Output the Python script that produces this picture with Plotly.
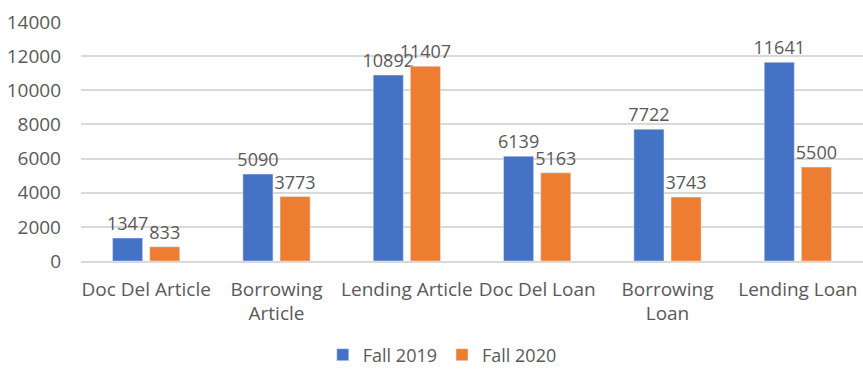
import plotly.graph_objects as go

categories = ["Doc Del Article", "Borrowing<br>Article", "Lending Article", "Doc Del Loan", "Borrowing<br>Loan", "Lending Loan"]
fall_2019 = [1347, 5090, 10892, 6139, 7722, 11641]
fall_2020 = [833, 3773, 11407, 5163, 3743, 5500]
y_ticks = [0, 2000, 4000, 6000, 8000, 10000, 12000, 14000]

font_family = "Open Sans, Liberation Sans, sans-serif"
grey = "#595959"

fig = go.Figure()
fig.add_trace(go.Bar(name="Fall 2019", x=categories, y=fall_2019, marker_color="#4472C4",
                     text=[str(v) for v in fall_2019], textposition="outside", cliponaxis=False,
                     textfont=dict(size=18, color=grey, family=font_family)))
fig.add_trace(go.Bar(name="Fall 2020", x=categories, y=fall_2020, marker_color="#ED7D31",
                     text=[str(v) for v in fall_2020], textposition="outside", cliponaxis=False,
                     textfont=dict(size=18, color=grey, family=font_family)))

fig.update_layout(
    width=863, height=369,
    margin=dict(l=81, r=0, t=22, b=108, autoexpand=False),
    barmode="group", bargap=0.43, bargroupgap=0.19,
    plot_bgcolor="white", paper_bgcolor="white",
    font=dict(family=font_family, size=17, color=grey),
    showlegend=True,
    legend=dict(orientation="h", x=0.462, xanchor="center", yref="container", y=0.038, yanchor="middle",
                font=dict(size=18, color=grey), traceorder="normal"),
    uniformtext=dict(mode="show", minsize=18),
)
fig.update_yaxes(range=[0, 14000], tickvals=y_ticks, ticktext=[str(v) for v in y_ticks],
                 showgrid=True, gridcolor="#D9D9D9",
                 gridwidth=1.5, zeroline=False, showline=False, ticks="", ticklen=0,
                 ticklabelstandoff=19,
                 tickfont=dict(size=19, color=grey), automargin=False)
fig.update_xaxes(showline=True, linecolor="#D9D9D9", linewidth=1.5, ticks="",
                 ticklabelstandoff=10,
                 tickfont=dict(size=19, color=grey), automargin=False)

fig.write_html("out.html")
